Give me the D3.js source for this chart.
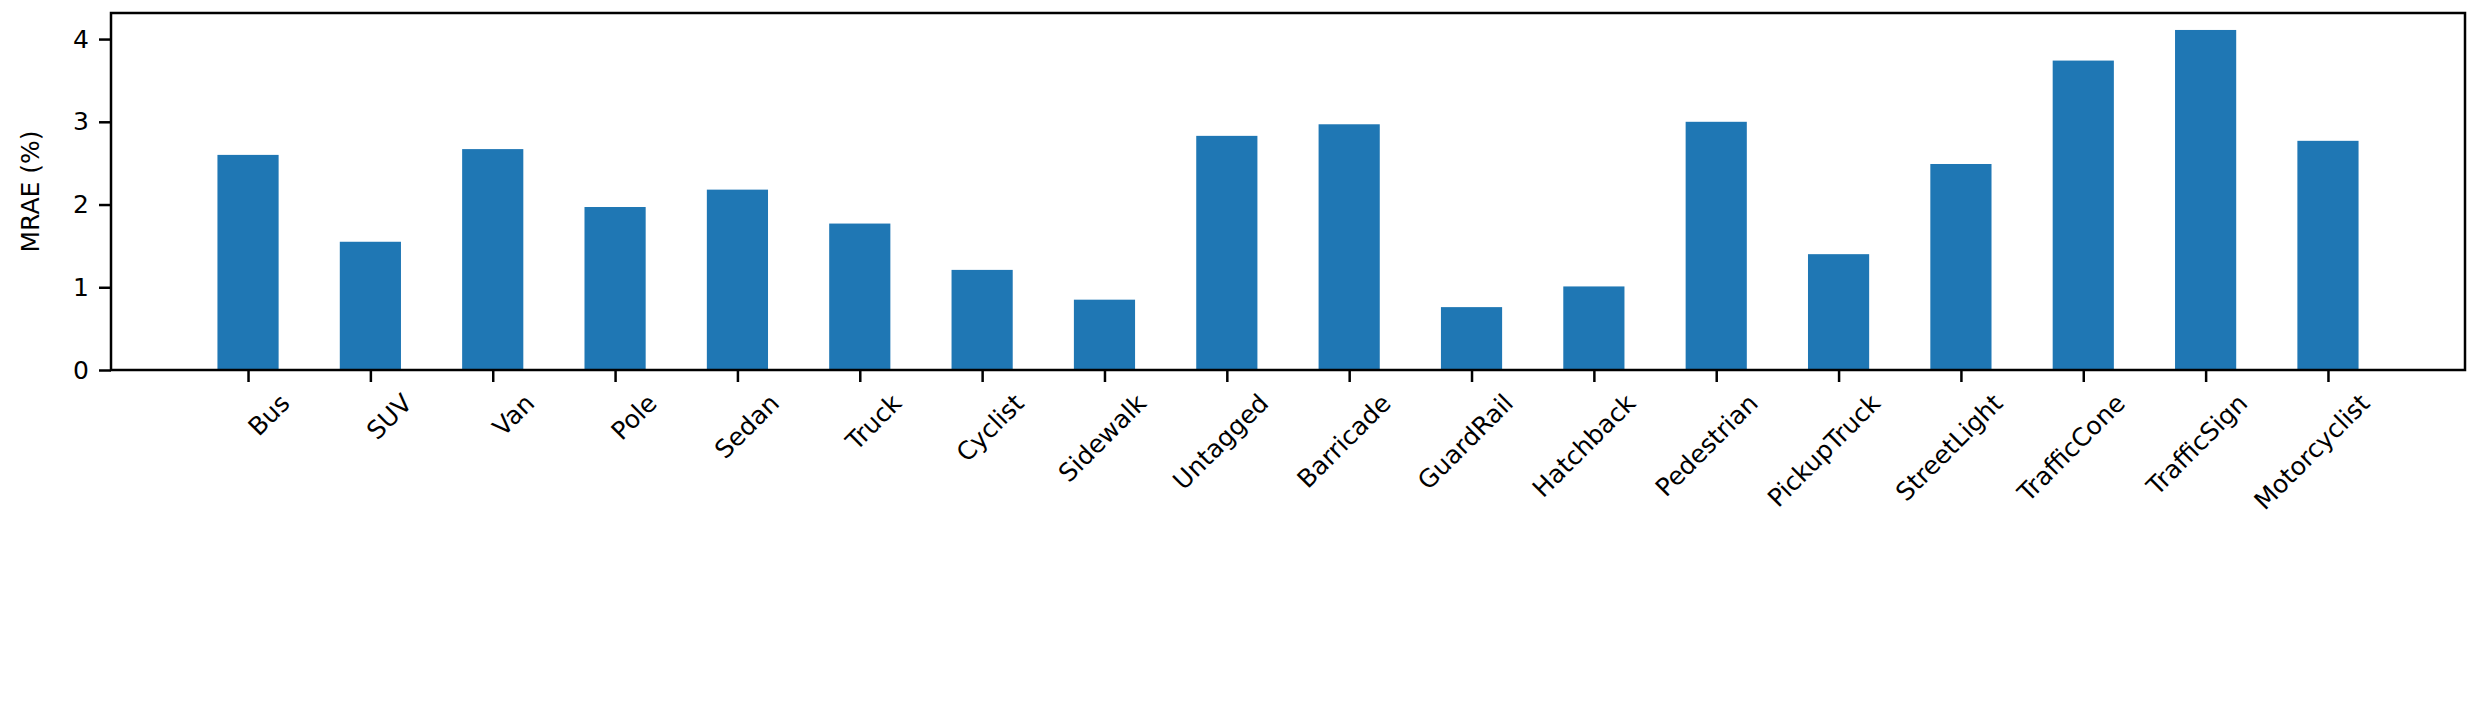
<!DOCTYPE html>
<html>
<head>
<meta charset="utf-8">
<script src="https://cdn.jsdelivr.net/npm/d3@7"></script>
<style>
  body { margin: 0; background: #fff; }
  text { font-family: "DejaVu Sans", sans-serif; }
</style>
</head>
<body>
<svg id="chart" width="2485" height="705"></svg>
<script>
const categories = ["Bus", "SUV", "Van", "Pole", "Sedan", "Truck", "Cyclist", "Sidewalk", "Untagged",
  "Barricade", "GuardRail", "Hatchback", "Pedestrian", "PickupTruck", "StreetLight", "TrafficCone",
  "TrafficSign", "Motorcyclist"];
const mrae = [2.60, 1.55, 2.67, 1.97, 2.18, 1.77, 1.21, 0.85, 2.83,
  2.97, 0.76, 1.01, 3.00, 1.40, 2.49, 3.74, 4.11, 2.77];
const yTicks = [0, 1, 2, 3, 4];

const plotL = 111, plotR = 2465, plotT = 13, plotB = 370;
const svg = d3.select("#chart");

const x = d3.scaleLinear().domain([-1.12, categories.length - 1 + 1.12]).range([plotL, plotR]);
const y = d3.scaleLinear().domain([0, 4.315]).range([plotB, plotT]);
const barW = (x(1) - x(0)) * 0.5;

svg.append("g")
  .selectAll("rect")
  .data(mrae)
  .join("rect")
  .attr("x", (d, i) => x(i) - barW / 2)
  .attr("y", d => y(d))
  .attr("width", barW)
  .attr("height", d => y(0) - y(d))
  .attr("fill", "#1f77b4");

// y axis
const ya = svg.append("g").attr("transform", `translate(${plotL},0)`)
  .call(d3.axisLeft(y).tickValues(yTicks).tickFormat(d3.format("d")).tickSize(12).tickPadding(10));
ya.select(".domain").remove();
ya.selectAll("line").attr("stroke-width", 2.5);
ya.selectAll("text").attr("font-size", 25).attr("fill", "#000");

// x axis
const xa = svg.append("g").attr("transform", `translate(0,${plotB})`)
  .call(d3.axisBottom(x).tickValues(d3.range(categories.length)).tickFormat(i => categories[i]).tickSize(12).tickPadding(8));
xa.select(".domain").remove();
xa.selectAll("line").attr("stroke-width", 2.5);
xa.selectAll("text")
  .attr("font-size", 25).attr("fill", "#000")
  .attr("text-anchor", "end")
  .attr("dy", "0.6em")
  .attr("transform", "translate(18,10) rotate(-45)");

// frame
svg.append("rect")
  .attr("x", plotL).attr("y", plotT)
  .attr("width", plotR - plotL).attr("height", plotB - plotT)
  .attr("fill", "none").attr("stroke", "#000").attr("stroke-width", 2.5);

svg.append("text")
  .attr("transform", `translate(32,${(plotT + plotB) / 2}) rotate(-90)`)
  .attr("text-anchor", "middle")
  .attr("dominant-baseline", "middle")
  .attr("font-size", 25)
  .text("MRAE (%)");
</script>
</body>
</html>
